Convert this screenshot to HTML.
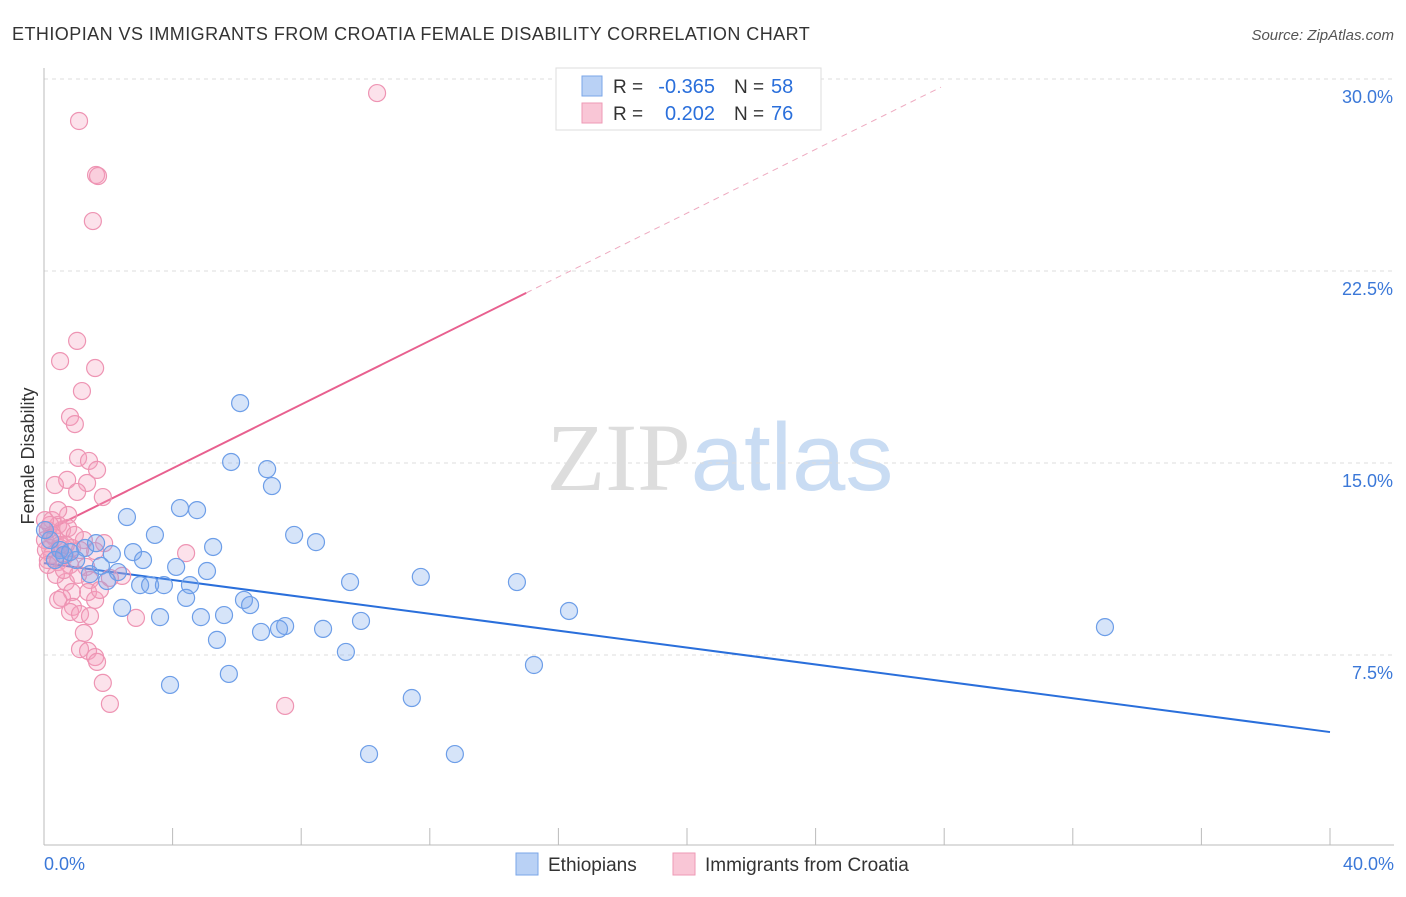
<!DOCTYPE html>
<html><head><meta charset="utf-8"><style>
body{margin:0;background:#fff;font-family:"Liberation Sans",sans-serif;}
svg text{font-family:"Liberation Sans",sans-serif;}
</style></head><body>
<svg id="chart" width="1406" height="892" viewBox="0 0 1406 892">
<text x="12" y="40" font-size="18" fill="#333" letter-spacing="0.45">ETHIOPIAN VS IMMIGRANTS FROM CROATIA FEMALE DISABILITY CORRELATION CHART</text>
<text x="1394" y="40" font-size="15" fill="#555" font-style="italic" text-anchor="end">Source: ZipAtlas.com</text>
<text x="720" y="490" font-size="96" text-anchor="middle"><tspan fill="#ddd" font-family="Liberation Serif">ZIP</tspan><tspan fill="#c9dcf3">atlas</tspan></text>
<g id="grid"></g><g id="axes"></g><g id="lines"></g><g id="points"></g>
<text transform="translate(34,456) rotate(-90)" font-size="18" fill="#333" text-anchor="middle">Female Disability</text>
<g>
<rect x="556" y="68" width="265" height="62" fill="#fff" stroke="#ddd"/>
<rect x="582" y="76" width="20" height="20" fill="#b9d1f5" stroke="#7aa6e8"/>
<rect x="582" y="103" width="20" height="20" fill="#f9c6d6" stroke="#ee9ab5"/>
<text x="613" y="93" font-size="19" fill="#333">R =</text>
<text x="715" y="93" font-size="20" fill="#2a6fdb" text-anchor="end">-0.365</text>
<text x="734" y="93" font-size="19" fill="#333">N =</text>
<text x="771" y="93" font-size="20" fill="#2a6fdb">58</text>
<text x="613" y="120" font-size="19" fill="#333">R =</text>
<text x="715" y="120" font-size="20" fill="#2a6fdb" text-anchor="end">0.202</text>
<text x="734" y="120" font-size="19" fill="#333">N =</text>
<text x="771" y="120" font-size="20" fill="#2a6fdb">76</text>
</g>
<g>
<rect x="516" y="853" width="22" height="22" fill="#b9d1f5" stroke="#7aa6e8"/>
<text x="548" y="871" font-size="19" fill="#333">Ethiopians</text>
<rect x="673" y="853" width="22" height="22" fill="#f9c6d6" stroke="#ee9ab5"/>
<text x="705" y="871" font-size="19" fill="#333">Immigrants from Croatia</text>
</g>
</svg>
<script>
const yTicks=[7.5,15,22.5,30];
const yTickLabels=["7.5%","15.0%","22.5%","30.0%"];
const xTickCount=10;
const xEndLabels=["0.0%","40.0%"];
const blueX=[6.10,5.82,6.94,7.09,4.23,4.76,2.58,3.45,7.78,8.46,5.26,2.77,2.11,3.08,1.00,1.77,4.11,5.07,2.30,1.43,1.96,2.99,3.30,3.73,4.54,9.52,11.72,14.71,4.42,6.22,6.41,2.43,16.33,3.61,4.88,5.60,9.86,7.50,7.31,6.75,8.68,33.0,5.38,9.39,15.24,5.75,3.92,11.44,10.11,12.78,0.50,0.19,0.62,1.28,0.03,0.34,0.81,1.62];
const blueY=[17.34,15.04,14.76,14.10,13.24,13.16,12.89,12.19,12.19,11.91,11.72,11.52,11.44,11.21,11.21,10.98,10.94,10.78,10.74,10.66,10.39,10.23,10.23,10.23,10.23,10.35,10.55,10.35,9.73,9.65,9.45,9.34,9.22,8.98,8.98,9.06,8.83,8.63,8.52,8.40,8.52,8.59,8.09,7.62,7.11,6.76,6.33,5.82,3.63,3.63,11.60,11.99,11.41,11.68,12.38,11.21,11.52,11.87];
const pinkX=[10.36,1.09,1.62,1.68,1.52,1.03,0.50,1.59,1.18,0.81,0.96,1.06,1.40,1.65,0.72,0.34,1.34,1.03,1.83,0.75,0.25,0.44,0.12,0.56,0.34,0.03,0.19,0.50,1.24,1.87,0.87,1.12,1.59,0.25,0.65,4.42,0.12,0.44,0.81,1.31,2.43,0.68,1.43,2.05,1.37,0.87,0.56,0.44,0.90,1.59,0.81,1.12,1.43,2.86,1.24,1.12,1.37,1.59,1.65,1.83,2.05,7.50,0.19,0.06,0.37,0.62,0.44,0.03,0.75,0.96,0.50,0.25,0.12,0.68,1.06,1.74];
const pinkY=[29.45,28.36,26.25,26.21,24.45,19.77,18.98,18.71,17.81,16.80,16.52,15.20,15.08,14.73,14.34,14.14,14.22,13.87,13.67,12.97,12.77,12.58,12.38,12.38,12.07,11.99,11.68,11.80,11.99,11.87,11.68,11.60,11.56,11.41,11.37,11.48,11.21,11.13,11.02,10.94,10.59,10.35,10.43,10.51,9.96,9.96,9.73,9.65,9.38,9.65,9.18,9.10,9.02,8.95,8.36,7.73,7.66,7.42,7.23,6.41,5.59,5.51,12.58,11.60,10.63,10.82,13.16,12.77,12.46,12.19,11.68,12.19,11.02,11.80,10.63,10.04];
const blueTrend=[11.09,4.49];
const pinkTrend=[12.30,0.623];
const pinkSolidEnd=15, pinkDashEnd=27.9;

const NS="http://www.w3.org/2000/svg";
const X0=44,X1=1330,Y0=847,PX_PER_Y=192/7.5;
const xs=v=>X0+(X1-X0)*v/40;
const ys=v=>Y0-v*PX_PER_Y;
function mk(tag,attrs,parent){const e=document.createElementNS(NS,tag);for(const k in attrs)e.setAttribute(k,attrs[k]);document.getElementById(parent).appendChild(e);return e;}

yTicks.forEach((t,i)=>{
  const g=mk('line',{x1:X0,x2:1394,y1:ys(t),y2:ys(t),stroke:'#ddd','stroke-dasharray':'4,4'},'grid');
  
  
  const tx=mk('text',{x:1393,y:ys(t)+24,'font-size':18,fill:'#3b78d8','text-anchor':'end'},'axes');
  tx.textContent=yTickLabels[i];
  
  
});
const ax=mk('line',{x1:X0,x2:X0,y1:68,y2:845,stroke:'#bbb'},'axes');


const bx=mk('line',{x1:X0,x2:1394,y1:845,y2:845,stroke:'#bbb'},'axes');


for(let i=1;i<=xTickCount;i++){
  const v=40*i/xTickCount;
  const t=mk('line',{x1:xs(v),x2:xs(v),y1:828,y2:845,stroke:'#bbb'},'axes');
  
  
}
[[0,'start',44],[40,'end',1394]].forEach((d,i)=>{
  const t=mk('text',{x:d[2],y:870,'font-size':18,fill:'#3b78d8','text-anchor':d[1]},'axes');
  t.textContent=xEndLabels[i];
  
  
});

const bl=mk('line',{x1:xs(0),y1:ys(blueTrend[0]),x2:xs(40),y2:ys(blueTrend[1]),stroke:'#2a6fdb','stroke-width':2},'lines');


const pl=mk('line',{x1:xs(0),y1:ys(pinkTrend[0]),x2:xs(pinkSolidEnd),y2:ys(pinkTrend[0]+pinkTrend[1]*pinkSolidEnd),stroke:'#e8608f','stroke-width':2},'lines');


const pd=mk('line',{x1:xs(pinkSolidEnd),y1:ys(pinkTrend[0]+pinkTrend[1]*pinkSolidEnd),x2:xs(pinkDashEnd),y2:ys(pinkTrend[0]+pinkTrend[1]*pinkDashEnd),stroke:'#eeaac0','stroke-width':1,'stroke-dasharray':'6,5'},'lines');



pinkX.forEach((v,i)=>{
  const c=mk('circle',{cx:xs(v),cy:ys(pinkY[i]),r:8.5,fill:'rgba(244,160,190,0.3)',stroke:'#ee94b3','stroke-width':1.2},'points');
  
  
});
blueX.forEach((v,i)=>{
  const c=mk('circle',{cx:xs(v),cy:ys(blueY[i]),r:8.5,fill:'rgba(120,165,235,0.3)',stroke:'#6d9ee8','stroke-width':1.2},'points');
  
  
});
</script>
</body></html>
